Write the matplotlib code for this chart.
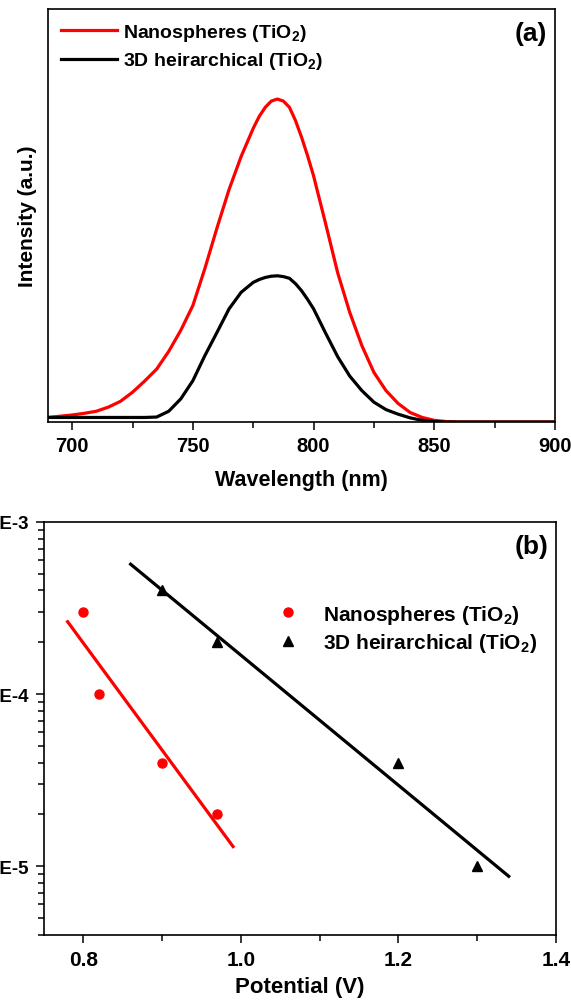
import numpy as np
import matplotlib
matplotlib.use("Agg")
import matplotlib.pyplot as plt
from matplotlib.ticker import MultipleLocator, LogLocator, FuncFormatter, NullFormatter

plt.rcParams['font.family'] = ['Liberation Sans', 'DejaVu Sans']
plt.rcParams['font.weight'] = 'bold'
plt.rcParams['axes.labelweight'] = 'bold'
plt.rcParams['mathtext.fontset'] = 'custom'
plt.rcParams['mathtext.rm'] = 'Liberation Sans:bold'
plt.rcParams['mathtext.bf'] = 'Liberation Sans:bold'

# (a) emission spectra
wavelength = [690, 695, 700, 705, 710, 715, 720, 725, 730, 735, 740, 745, 750, 755,
              760, 765, 770, 775, 777.5, 780, 782.5, 785, 787.5, 790, 792.5, 795, 797.5,
              800, 805, 810, 815, 820, 825, 830, 835, 840, 845, 850, 855, 860, 870, 880,
              890, 900]
nano_int = [0.011, 0.014, 0.017, 0.021, 0.026, 0.036, 0.050, 0.072, 0.099, 0.128, 0.171,
            0.222, 0.282, 0.372, 0.470, 0.563, 0.643, 0.711, 0.740, 0.762, 0.777, 0.782,
            0.777, 0.762, 0.730, 0.690, 0.645, 0.596, 0.480, 0.361, 0.265, 0.185, 0.120,
            0.076, 0.045, 0.023, 0.011, 0.004, 0.001, 0.0, 0.0, 0.0, 0.0, 0.0]
hier_int = [0.011, 0.011, 0.011, 0.011, 0.011, 0.011, 0.011, 0.011, 0.011, 0.012, 0.026,
            0.056, 0.100, 0.161, 0.217, 0.274, 0.314, 0.338, 0.345, 0.350, 0.353, 0.354,
            0.352, 0.348, 0.335, 0.318, 0.297, 0.274, 0.215, 0.158, 0.111, 0.076, 0.048,
            0.030, 0.019, 0.010, 0.004, 0.001, 0.0, 0.0, 0.0, 0.0, 0.0, 0.0]

# (b) current vs potential
nano_v = [0.80, 0.82, 0.90, 0.97]
nano_i = [3.0e-4, 1.0e-4, 4.0e-5, 2.0e-5]
hier_v = [0.90, 0.97, 1.20, 1.30]
hier_i = [4.0e-4, 2.0e-4, 4.0e-5, 1.0e-5]
nano_fit_range = [0.78, 0.99]
hier_fit_range = [0.86, 1.34]

lab_nano = r'Nanospheres (TiO$_{2}$)'
lab_hier = r'3D heirarchical (TiO$_{2}$)'

fig = plt.figure(figsize=(5.71, 10.03), dpi=100)

# ---- panel (a)
ax1 = fig.add_axes([48/571, 1-423/1003, 507/571, 413/1003])
ax1.plot(wavelength, nano_int, color='#ff0000', lw=2.3, label=lab_nano,
         solid_joinstyle='round')
ax1.plot(wavelength, hier_int, color='black', lw=2.3, label=lab_hier,
         solid_joinstyle='round')
ax1.set_xlim(690, 900)
ax1.set_ylim(0, 1)
ax1.set_yticks([])
ax1.xaxis.set_major_locator(MultipleLocator(50))
ax1.xaxis.set_minor_locator(MultipleLocator(25))
ax1.tick_params(axis='x', which='major', length=6, width=1.1, labelsize=14.5, pad=4)
ax1.tick_params(axis='x', which='minor', length=4, width=1.1)
ax1.set_xlabel('Wavelength (nm)', fontsize=15.5, labelpad=10)
ax1.set_ylabel('Intensity (a.u.)', fontsize=15, labelpad=8)
ax1.text(0.985, 0.97, '(a)', transform=ax1.transAxes, ha='right', va='top',
         fontsize=19, fontweight='bold')
ax1.legend(loc='upper left', bbox_to_anchor=(0.0, 1.0), frameon=False,
           fontsize=14, handlelength=2.9, handletextpad=0.3, labelspacing=0.4,
           borderaxespad=0.25)

# ---- panel (b)
ax2 = fig.add_axes([44/571, 1-936/1003, 512/571, 413/1003])
ax2.set_yscale('log')
ax2.plot(nano_v, nano_i, 'o', color='#ff0000', ms=6.5, label=lab_nano)
ax2.plot(hier_v, hier_i, '^', color='black', ms=6.5, label=lab_hier)

for v, i, rng, c in [(nano_v, nano_i, nano_fit_range, '#ff0000'),
                     (hier_v, hier_i, hier_fit_range, 'black')]:
    k, b = np.polyfit(v, np.log10(i), 1)
    xs = np.array(rng)
    ax2.plot(xs, 10 ** (k * xs + b), color=c, lw=2.3)

ax2.set_xlim(0.75, 1.4)
ax2.set_ylim(10 ** -5.4, 1e-3)
ax2.xaxis.set_major_locator(MultipleLocator(0.2))
ax2.xaxis.set_minor_locator(MultipleLocator(0.1))
ax2.xaxis.set_major_formatter(FuncFormatter(lambda x, p: f'{x:.1f}'))
ax2.yaxis.set_major_locator(LogLocator(base=10, numticks=10))
ax2.yaxis.set_minor_locator(LogLocator(base=10, subs=np.arange(2, 10), numticks=10))
ax2.yaxis.set_minor_formatter(NullFormatter())
ax2.yaxis.set_major_formatter(FuncFormatter(lambda y, p: f'1E{int(round(np.log10(y)))}'))
ax2.tick_params(which='major', length=6, width=1.1, labelsize=15, pad=5)
ax2.tick_params(axis='y', which='major', labelsize=13.5, pad=4.5)
ax2.tick_params(which='minor', length=4, width=1.1)
ax2.set_xlabel('Potential (V)', fontsize=16, labelpad=5)
ax2.text(0.985, 0.97, '(b)', transform=ax2.transAxes, ha='right', va='top',
         fontsize=19, fontweight='bold')
ax2.legend(loc='upper left', bbox_to_anchor=(0.44, 0.825), frameon=False,
           fontsize=15, handlelength=1.0, handletextpad=1.2, labelspacing=0.25,
           borderaxespad=0.0)

for ax in (ax1, ax2):
    for s in ax.spines.values():
        s.set_linewidth(1.2)

fig.savefig('out.png', dpi=100)
